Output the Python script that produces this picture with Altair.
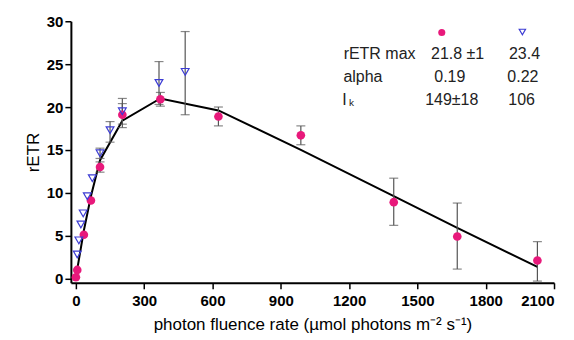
import altair as alt
import pandas as pd

# ---- data ----
pink_x = [0, 6, 35, 66, 106, 204, 371, 626, 988, 1396, 1675, 2027]
pink_y = [0.15, 1.0, 5.1, 9.1, 13.0, 19.1, 20.9, 18.9, 16.7, 8.9, 4.9, 2.1]
pink_lo = [None, None, None, None, 12.4, 17.6, 20.1, 17.8, 15.6, 6.2, 1.1, -0.3]
pink_hi = [None, None, None, None, 13.6, 20.4, 21.7, 20.0, 17.8, 11.7, 8.8, 4.3]

fit_x = [0, 6, 35, 66, 106, 204, 371, 626, 988, 1396, 1675, 2027]
fit_y = [0, 1.1, 5.6, 9.6, 13.8, 18.4, 21.0, 19.6, 15.0, 9.6, 5.9, 1.35]

tri_x = [6, 13, 22, 32, 50, 72, 106, 150, 204, 365, 480]
tri_y = [2.8, 4.45, 6.3, 7.6, 9.6, 11.7, 14.6, 17.3, 19.5, 22.8, 24.1]
tri_lo = [None, None, None, None, None, None, 14.0, 15.9, 18.0, 20.3, 19.1]
tri_hi = [None, None, None, None, None, None, 15.2, 18.3, 21.0, 25.3, 28.8]

x_ticks = [0, 300, 600, 900, 1200, 1500, 1800, 2100]
y_ticks = [0, 5, 10, 15, 20, 25, 30]

# parameter table (text, data-x, data-y)
table_text = ["rETR max", "alpha", "I", "21.8 \u00b11", "0.19", "149\u00b118", "23.4", "0.22", "106"]
table_x = [1176, 1175, 1170, 1560, 1574, 1534, 1902, 1895, 1899]
table_y = [25.55, 22.9, 20.25, 25.55, 22.9, 20.25, 25.55, 22.9, 20.25]
sub_text = ["k"]
sub_x = [1199]
sub_y = [20.1]
legend_x = [1607, 1961]
legend_y = [28.68, 28.75]

PINK = "#e8197b"
BLUE = "#3c3cd4"
FONT = "Liberation Sans"

pink = pd.DataFrame({"x": pink_x, "y": pink_y, "lo": pink_lo, "hi": pink_hi})
tri = pd.DataFrame({"x": tri_x, "y": tri_y, "lo": tri_lo, "hi": tri_hi})
fit = pd.DataFrame({"x": fit_x, "y": fit_y})
err = pd.concat([pink, tri]).dropna()
err_caps = pd.concat([
    err[["x", "lo"]].rename(columns={"lo": "y"}),
    err[["x", "hi"]].rename(columns={"hi": "y"}),
])
table = pd.DataFrame({"x": table_x, "y": table_y, "t": table_text})
sub = pd.DataFrame({"x": sub_x, "y": sub_y, "t": sub_text})
leg_pink = pd.DataFrame({"x": legend_x[:1], "y": legend_y[:1]})
leg_tri = pd.DataFrame({"x": legend_x[1:], "y": legend_y[1:]})

xs = alt.Scale(domain=[-22, 2100], nice=False, zero=False)
ys = alt.Scale(domain=[-0.5, 30], nice=False, zero=False)
X = alt.X("x:Q", scale=xs, axis=alt.Axis(values=x_ticks, format="d",
          title="photon fluence rate (\u00b5mol photons m\u207b\u00b2 s\u207b\u00b9)",
          titlePadding=8, labelPadding=5))
Y = alt.Y("y:Q", scale=ys, axis=alt.Axis(values=y_ticks, title="rETR",
          titlePadding=4, labelPadding=2))

line = alt.Chart(fit).mark_line(color="black", strokeWidth=2).encode(x=X, y=Y)
rules = alt.Chart(err).mark_rule(color="#555555", strokeWidth=1.2).encode(
    x=X, y=alt.Y("lo:Q", scale=ys), y2="hi:Q")
caps = alt.Chart(err_caps).mark_tick(color="#555555", orient="horizontal",
                                     size=9, thickness=1.2).encode(x=X, y=Y)
pts = alt.Chart(pink).mark_point(shape="circle", filled=True, color=PINK,
                                 size=75, opacity=1).encode(x=X, y=Y)
tris = alt.Chart(tri).mark_point(shape="triangle-down", filled=False, color=BLUE,
                                 size=60, strokeWidth=1.2, opacity=1).encode(x=X, y=Y)
txt = alt.Chart(table).mark_text(align="left", baseline="alphabetic", font=FONT,
                                 fontSize=16, color="#222222").encode(x=X, y=Y, text="t:N")
subt = alt.Chart(sub).mark_text(align="left", baseline="alphabetic", font=FONT,
                                fontSize=10, color="#222222").encode(x=X, y=Y, text="t:N")
lp = alt.Chart(leg_pink).mark_point(shape="circle", filled=True, color=PINK,
                                    size=50, opacity=1).encode(x=X, y=Y)
lt = alt.Chart(leg_tri).mark_point(shape="triangle-down", filled=False, color=BLUE,
                                   size=40, strokeWidth=1.2, opacity=1).encode(x=X, y=Y)

chart = alt.layer(line, rules, caps, pts, tris, txt, subt, lp, lt).properties(
    width=484, height=262,
    autosize=alt.AutoSizeParams(type="none"),
    padding={"left": 63, "top": 13, "right": 12, "bottom": 50},
).configure_view(stroke=None).configure_axis(
    grid=False, domainColor="black", domainWidth=2, tickColor="black",
    tickWidth=1.5, tickSize=6, labelFont=FONT, labelFontWeight="bold",
    labelFontSize=15, labelColor="black", titleFont=FONT,
    titleFontWeight="normal", titleFontSize=17, titleColor="black",
)

chart.save("out.html", embed_options={"renderer": "svg", "actions": False})
